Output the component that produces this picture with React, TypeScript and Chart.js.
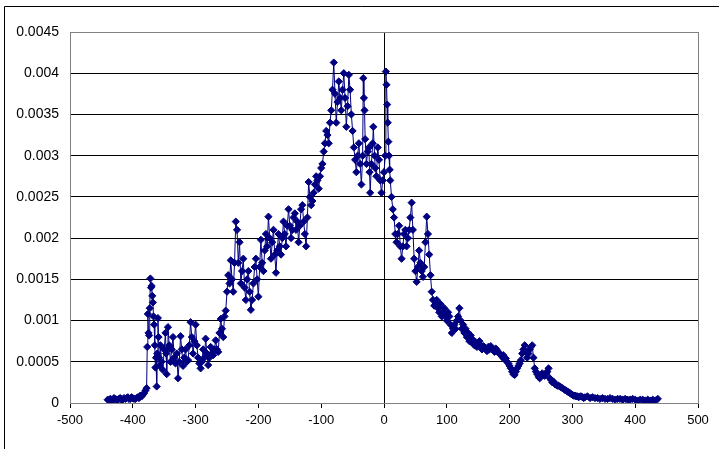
import React, { useEffect, useRef } from "react";
import { Chart, registerables } from "chart.js";

Chart.register(...registerables);

const xValues: number[] = [
  -440, -438, -436, -434, -432, -430, -428, -426, -424, -422, -420, -418, -416, -414, -412, -410,
  -408, -406, -404, -402, -400, -398, -396, -394, -392, -390, -388, -386, -384, -382, -380, -378,
  -377, -376, -375, -374, -373, -372, -371, -370, -369, -368, -367, -366, -365, -364, -363, -362,
  -361, -360, -359, -358, -357, -356, -354, -352, -350, -348, -347, -346, -345, -344, -342, -340,
  -338, -336, -334, -332, -330, -328, -326, -324, -322, -320, -318, -316, -314, -312, -310, -308,
  -306, -304, -302, -300, -298, -296, -294, -292, -290, -288, -286, -284, -282, -280, -278, -276,
  -274, -272, -270, -268, -266, -264, -262, -260, -258, -256, -254, -252, -250, -248, -246, -244,
  -242, -240, -238, -236, -234, -232, -230, -228, -226, -224, -222, -220, -218, -216, -214, -212,
  -210, -208, -206, -204, -202, -200, -198, -196, -194, -192, -190, -188, -186, -184, -182, -180,
  -178, -176, -174, -172, -170, -168, -166, -164, -162, -160, -158, -156, -154, -152, -150, -148,
  -146, -144, -142, -140, -138, -136, -134, -132, -130, -128, -126, -124, -122, -120, -118, -116,
  -114, -112, -110, -108, -106, -104, -102, -100, -98, -96, -94, -92, -90, -88, -86, -84,
  -82, -80, -78, -76, -74, -72, -70, -68, -66, -64, -62, -60, -58, -56, -54, -52,
  -50, -48, -46, -44, -42, -40, -38, -36, -34, -33, -32, -31, -30, -28, -26, -24,
  -23, -22, -20, -18, -17, -15, -14, -12, -10, -8, -6, -4, -2, 0, 2, 3,
  4, 5, 6, 7, 8, 9, 10, 12, 14, 16, 18, 20, 22, 24, 26, 28,
  30, 32, 34, 36, 38, 40, 42, 44, 46, 48, 50, 52, 54, 56, 58, 60,
  62, 64, 66, 68, 70, 72, 74, 76, 78, 80, 82, 84, 86, 88, 90, 92,
  94, 96, 98, 100, 102, 104, 106, 108, 110, 112, 114, 116, 118, 120, 122, 124,
  126, 128, 130, 132, 134, 136, 138, 140, 142, 144, 146, 148, 150, 152, 154, 156,
  158, 160, 162, 164, 166, 168, 170, 172, 174, 176, 178, 180, 182, 184, 186, 188,
  190, 192, 194, 196, 198, 200, 202, 204, 206, 208, 210, 212, 214, 216, 218, 220,
  222, 224, 226, 228, 230, 232, 234, 236, 238, 240, 242, 244, 246, 248, 250, 252,
  254, 256, 258, 260, 262, 264, 266, 268, 270, 272, 274, 276, 278, 280, 282, 284,
  286, 288, 290, 292, 294, 296, 298, 300, 302, 304, 306, 308, 310, 312, 314, 316,
  318, 320, 324, 328, 332, 336, 340, 344, 348, 352, 356, 360, 364, 368, 372, 376,
  380, 384, 388, 392, 396, 400, 404, 408, 412, 416, 420, 424, 428, 432, 436,
];

const yValues: number[] = [
  0.00004, 0.00003, 0.00005, 0.00004, 0.00003, 0.00006, 0.00005, 0.00004, 0.00004, 0.00005, 0.00006, 0.00004, 0.00004, 0.00006, 0.00005, 0.00006,
  0.00007, 0.00005, 0.00005, 0.00007, 0.00006, 0.00005, 0.00005, 0.00006, 0.00007, 0.00006, 0.00009, 0.00008, 0.0001, 0.00012, 0.00015, 0.00018,
  0.00068, 0.00108, 0.00085, 0.00082, 0.00115, 0.00151, 0.0014, 0.00142, 0.0013, 0.00122, 0.00105, 0.00095, 0.0007, 0.00043, 0.00055, 0.0002,
  0.0006, 0.00103, 0.0008, 0.00055, 0.00045, 0.0007, 0.0005, 0.0004, 0.00065, 0.00085, 0.0006, 0.00035, 0.00065, 0.00092, 0.0007, 0.0005,
  0.00065, 0.0008, 0.00055, 0.00048, 0.0006, 0.0003, 0.0005, 0.00081, 0.00065, 0.00045, 0.00055, 0.00065, 0.0005, 0.00052, 0.0007, 0.00098,
  0.0008, 0.0006, 0.00075, 0.00095, 0.0007, 0.00055, 0.00048, 0.00042, 0.0005, 0.00065, 0.00055, 0.00078, 0.0006, 0.00046, 0.00055, 0.00068,
  0.0006, 0.00058, 0.00065, 0.00076, 0.00065, 0.00062, 0.00085, 0.00102, 0.0009, 0.0008, 0.00105, 0.00112, 0.00135, 0.00155, 0.00145, 0.00173,
  0.0015, 0.00135, 0.0017, 0.0022, 0.0021, 0.0017, 0.00195, 0.00145, 0.0016, 0.00175, 0.0014, 0.00125, 0.0015, 0.0016, 0.00135, 0.00113,
  0.00125, 0.00145, 0.00165, 0.00175, 0.0015, 0.00129, 0.00165, 0.00198, 0.0017, 0.0016, 0.00185, 0.00205, 0.0019, 0.00226, 0.002, 0.00175,
  0.00195, 0.0021, 0.0018, 0.00158, 0.00185, 0.00205, 0.0019, 0.0018, 0.002, 0.0022, 0.00205, 0.0019, 0.00215, 0.00235, 0.00215, 0.002,
  0.0021, 0.00225, 0.0023, 0.0021, 0.0022, 0.00195, 0.00215, 0.00235, 0.0024, 0.0022, 0.00205, 0.0019, 0.00225, 0.00268, 0.0025, 0.0024,
  0.00245, 0.00255, 0.00265, 0.00275, 0.0027, 0.0026, 0.00275, 0.00285, 0.0029, 0.00305, 0.00315, 0.0033, 0.00325, 0.00315, 0.0034, 0.00355,
  0.0038, 0.00413, 0.00375, 0.0034, 0.00365, 0.0039, 0.0037, 0.00355, 0.0038, 0.004, 0.0037, 0.00335, 0.0036, 0.00398, 0.0038, 0.0035,
  0.0033, 0.0031, 0.00295, 0.0028, 0.003, 0.00315, 0.0029, 0.00265, 0.003, 0.00394, 0.0037, 0.00355, 0.0032, 0.0029, 0.00305, 0.0031,
  0.0028, 0.00255, 0.0029, 0.00315, 0.00335, 0.003, 0.00285, 0.00275, 0.0031, 0.00295, 0.0027, 0.00255, 0.0027, 0.0028, 0.003, 0.00402,
  0.00386, 0.00362, 0.0034, 0.00317, 0.003, 0.00283, 0.0027, 0.0025, 0.00235, 0.00225, 0.00205, 0.00195, 0.00205, 0.00215, 0.0019, 0.00175,
  0.0019, 0.00205, 0.0021, 0.0019, 0.002, 0.0021, 0.00225, 0.00243, 0.0021, 0.00175, 0.0016, 0.00147, 0.00165, 0.00185, 0.0017, 0.0016,
  0.00153, 0.00165, 0.00195, 0.00226, 0.00205, 0.0018, 0.00155, 0.00135, 0.00125, 0.00118, 0.0012, 0.00125, 0.00115, 0.0011, 0.0012, 0.00105,
  0.0011, 0.00115, 0.00105, 0.001, 0.0011, 0.00105, 0.00095, 0.00085, 0.0009, 0.00095, 0.0009, 0.001, 0.00105, 0.00115, 0.001, 0.0009,
  0.00095, 0.00085, 0.0009, 0.0008, 0.00085, 0.00075, 0.00082, 0.00078, 0.00072, 0.0007, 0.00074, 0.00068, 0.00072, 0.00075, 0.0007, 0.00065,
  0.00069, 0.00068, 0.00065, 0.00063, 0.00068, 0.00065, 0.00069, 0.00066, 0.00064, 0.00062, 0.00066, 0.00064, 0.00061, 0.0006, 0.00058, 0.00056,
  0.00058, 0.00053, 0.00054, 0.0005, 0.00048, 0.00045, 0.00042, 0.00038, 0.00035, 0.00034, 0.00038, 0.00042, 0.00045, 0.00048, 0.00052, 0.0006,
  0.00065, 0.0007, 0.00062, 0.00055, 0.0006, 0.00065, 0.00068, 0.0007, 0.00055, 0.00042, 0.00038, 0.00035, 0.00032, 0.0003, 0.00034, 0.00036,
  0.00034, 0.00033, 0.00036, 0.00038, 0.00042, 0.0003, 0.00028, 0.00025, 0.00026, 0.00023, 0.00022, 0.00021, 0.00021, 0.0002, 0.00019, 0.00018,
  0.00017, 0.00016, 0.00015, 0.00014, 0.00013, 0.00012, 0.00011, 0.0001, 0.00009, 0.00009, 0.00008, 0.00008, 0.00007, 0.00008, 0.00008, 0.00007,
  0.00006, 0.00007, 0.00008, 0.00006, 0.00007, 0.00006, 0.00006, 0.00005, 0.00006, 0.00005, 0.00005, 0.00006, 0.00005, 0.00004, 0.00005, 0.00005,
  0.00004, 0.00005, 0.00004, 0.00004, 0.00005, 0.00004, 0.00003, 0.00004, 0.00004, 0.00003, 0.00004, 0.00003, 0.00004, 0.00003, 0.00005,
];

const xTickValues: number[] = [-500, -400, -300, -200, -100, 0, 100, 200, 300, 400, 500];
const yTickLabels: string[] = ["0", "0.0005", "0.001", "0.0015", "0.002", "0.0025", "0.003", "0.0035", "0.004", "0.0045"];

const NAVY = "#000080";
const FONT = "'Liberation Sans', Arial, sans-serif";

const framePlugin = {
  id: "framePlugin",
  beforeDraw(chart: any) {
    const ctx = chart.ctx;
    ctx.save();
    ctx.fillStyle = "#ffffff";
    ctx.fillRect(0, 0, chart.width, chart.height);
    ctx.strokeStyle = "#000000";
    ctx.lineWidth = 1;
    ctx.beginPath();
    ctx.moveTo(4.5, chart.height);
    ctx.lineTo(4.5, 6.5);
    ctx.lineTo(chart.width, 6.5);
    ctx.stroke();
    ctx.restore();
  },
  beforeDatasetsDraw(chart: any) {
    const { ctx, chartArea } = chart;
    ctx.save();
    ctx.strokeStyle = "#808080";
    ctx.lineWidth = 1;
    ctx.strokeRect(
      Math.round(chartArea.left) + 0.5,
      Math.round(chartArea.top) + 0.5,
      Math.round(chartArea.right - chartArea.left),
      Math.round(chartArea.bottom - chartArea.top)
    );
    ctx.restore();
  },
};

export default function App() {
  const canvasRef = useRef<HTMLCanvasElement | null>(null);

  useEffect(() => {
    if (!canvasRef.current) return;
    const n = Math.min(xValues.length, yValues.length);
    const points = xValues.slice(0, n).map((x, i) => ({ x, y: yValues[i] }));
    const chart = new Chart(canvasRef.current, {
      type: "scatter",
      data: {
        datasets: [
          {
            data: points,
            showLine: true,
            borderColor: NAVY,
            borderWidth: 1,
            backgroundColor: NAVY,
            pointStyle: "rectRot",
            pointRadius: 3.6,
            pointBorderWidth: 1,
            pointBorderColor: NAVY,
            pointBackgroundColor: NAVY,
          },
        ],
      },
      options: {
        responsive: false,
        animation: false,
        events: [],
        layout: { padding: { left: 0, top: 32, right: 21, bottom: 0 } },
        plugins: { legend: { display: false }, tooltip: { enabled: false } },
        scales: {
          x: {
            type: "linear",
            min: -500,
            max: 500,
            afterBuildTicks: (scale: any) => {
              scale.ticks = xTickValues.map((v) => ({ value: v }));
            },
            afterFit: (scale: any) => {
              scale.height = 46;
            },
            border: { display: false },
            grid: {
              color: (c: any) => (c.tick && c.tick.value === 0 ? "#000000" : "rgba(0,0,0,0)"),
              tickColor: "#000000",
              tickLength: 5,
              lineWidth: 1,
            },
            ticks: {
              color: "#000000",
              font: { family: FONT, size: 13 },
              padding: 5,
              maxRotation: 0,
              callback: (v: any) => String(v),
            },
          },
          y: {
            type: "linear",
            min: 0,
            max: 0.0045,
            afterBuildTicks: (scale: any) => {
              scale.ticks = yTickLabels.map((l) => ({ value: Number(l) }));
            },
            afterFit: (scale: any) => {
              scale.width = 70;
            },
            border: { display: false },
            grid: {
              color: (c: any) => (c.tick && c.tick.value >= 0.0045 ? "#808080" : "#000000"),
              drawTicks: false,
              lineWidth: 1,
            },
            ticks: {
              color: "#000000",
              font: { family: FONT, size: 14 },
              padding: 11,
              callback: (v: any) => {
                const idx = yTickLabels.findIndex((l) => Math.abs(Number(l) - Number(v)) < 1e-9);
                return idx >= 0 ? yTickLabels[idx] : "";
              },
            },
          },
        },
      },
      plugins: [framePlugin],
    });
    return () => chart.destroy();
  }, []);

  return (
    <div style={{ position: "absolute", left: 0, top: 0, width: 719, height: 449, overflow: "hidden" }}>
      <canvas ref={canvasRef} width={719} height={449} style={{ display: "block" }} />
    </div>
  );
}
